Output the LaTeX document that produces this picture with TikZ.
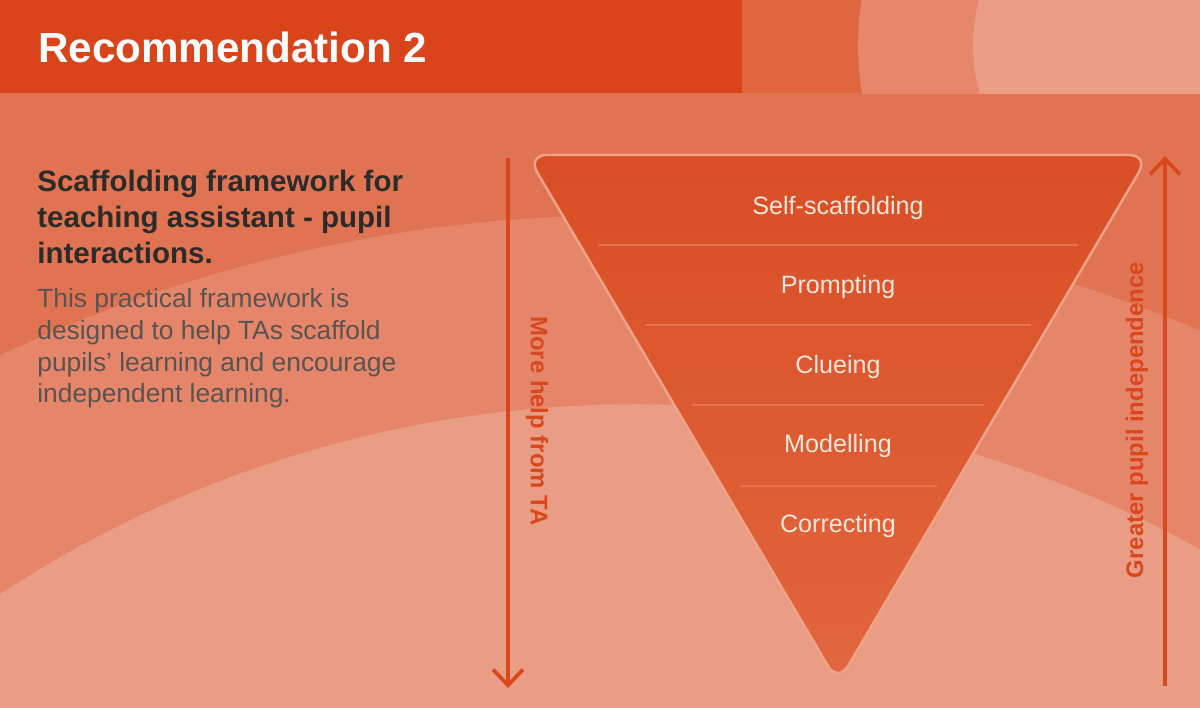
\documentclass[tikz,border=0pt]{standalone}
\usepackage{fontspec}
\setmainfont{Liberation Sans}
\usetikzlibrary{arrows.meta}

\definecolor{hdrdark}{HTML}{D9441A}
\definecolor{hdrmid}{HTML}{DF663F}
\definecolor{hdrring}{HTML}{E6866A}
\definecolor{hdrlight}{HTML}{EB9D85}
\definecolor{bgbase}{HTML}{E07452}
\definecolor{bgmid}{HTML}{E5866A}
\definecolor{bglight}{HTML}{EA9D85}
\definecolor{tritop}{HTML}{D94E24}
\definecolor{tribot}{HTML}{E1663F}
\definecolor{tririm}{HTML}{F0A389}
\definecolor{sepline}{HTML}{E5734F}
\definecolor{lvlfg}{HTML}{FBE6DC}
\definecolor{arrowfg}{HTML}{D9471C}
\definecolor{headfg}{HTML}{2D2B2A}
\definecolor{bodyfg}{HTML}{5A5350}

\begin{document}
\begin{tikzpicture}[x=0.02cm, y=-0.02cm,
  lvltext/.style={text=lvlfg, anchor=base, inner sep=0pt,
    font=\fontsize{14.3}{17}\selectfont},
  sidetext/.style={text=arrowfg, inner sep=0pt,
    font=\bfseries\fontsize{13.6}{16}\selectfont},
  helparrow/.style={arrowfg, line width=2.1pt,
    -{Straight Barb[length=9pt, width=17pt]}}]

\useasboundingbox (0,0) rectangle (1200,707);
\clip (0,0) rectangle (1200,707);

% ============================================================ background
\fill[bgbase] (0,0) rectangle (1200,707);
\fill[bgmid] (628,1688) circle (29.46cm);
\fill[bglight] (637,1567) circle (23.26cm);

% ================================================================ header
\fill[hdrmid] (0,0) rectangle (1200,93);
\begin{scope}
  \clip (0,0) rectangle (1200,93);
  \fill[hdrring] (1150,45) circle (5.84cm);
  \fill[hdrlight] (1150,45) circle (3.54cm);
\end{scope}
\fill[hdrdark] (0,0) rectangle (742,93);
\node[anchor=base west, text=white, inner sep=0pt,
  font=\bfseries\fontsize{24}{29}\selectfont] (title) at (38,62)
  {Recommendation 2};

% ============================================================ left texts
\node[anchor=north west, align=left, text=headfg, inner sep=0pt,
  font=\bfseries\fontsize{16.8}{20.4}\selectfont] (heading) at (37,170)
  {Scaffolding framework for\\teaching assistant - pupil\\interactions.};
\node[anchor=north west, align=left, text=bodyfg, inner sep=0pt,
  font=\fontsize{15}{18.1}\selectfont] (blurb) at (37,288)
  {This practical framework is\\designed to help TAs scaffold\\
   pupils' learning and encourage\\independent learning.};

% ============================================================= the funnel
\coordinate (tritl) at (527,155);
\coordinate (tritr) at (1149,155);
\coordinate (triapex) at (838,683);
\shadedraw[top color=tritop, bottom color=tribot, draw=tririm,
  line width=1.4pt, rounded corners=0.4cm]
  (tritl) -- (tritr) -- (triapex) -- cycle;

% separators, inset 18px from the slanted sides
\foreach \y in {245,325,405,486}
  \draw[sepline, line width=0.9pt]
    ({545+0.589*(\y-155)},\y) -- ({1131-0.587*(\y-155)},\y);

\foreach \lab [count=\i from 0] in
    {Self-scaffolding, Prompting, Clueing, Modelling, Correcting}
  \node[lvltext] (level\i) at (838,{214+79.5*\i}) {\lab};

% ============================================================ side arrows
\coordinate (helptop) at (508,158);
\coordinate (helpend) at (508,688);
\draw[helparrow] (helptop) -- (helpend);
\node[sidetext, rotate=-90] (helplabel) at (537,421) {More help from TA};

\coordinate (indepstart) at (1165,686);
\coordinate (independ) at (1165,156);
\draw[helparrow] (indepstart) -- (independ);
\node[sidetext, rotate=90] (indeplabel) at (1137,420)
  {Greater pupil independence};

\end{tikzpicture}
\end{document}
